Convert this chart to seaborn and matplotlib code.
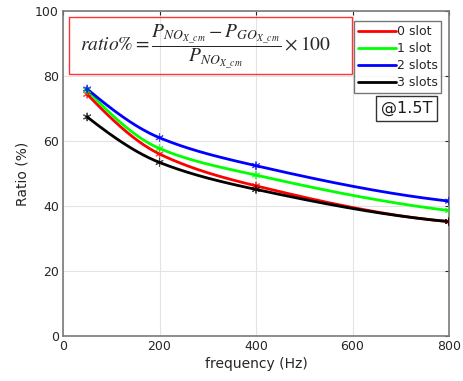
import numpy as np
import pandas as pd
import seaborn as sns
import matplotlib
matplotlib.use("Agg")
import matplotlib.pyplot as plt
from matplotlib.patches import Rectangle

# ---- data ----
freq = [50, 200, 400, 800]
slot0 = [74.4, 56.0, 46.2, 35.2]
slot1 = [75.6, 57.7, 49.5, 38.6]
slot2 = [76.0, 61.0, 52.4, 41.5]
slot3 = [67.4, 53.4, 45.1, 35.2]
series_names = ["0 slot", "1 slot", "2 slots", "3 slots"]
series_vals = [slot0, slot1, slot2, slot3]
colors = ["#ff0000", "#00ff00", "#0000ff", "#000000"]
x_ticks = [0, 200, 400, 600, 800]
y_ticks = [0, 20, 40, 60, 80, 100]


def pchip(x, y, n=300):
    x = np.asarray(x, float); y = np.asarray(y, float)
    h = np.diff(x)
    delta = np.diff(y) / h
    k = len(x)
    d = np.zeros(k)
    for i in range(1, k - 1):
        if delta[i - 1] * delta[i] > 0:
            w1 = 2 * h[i] + h[i - 1]
            w2 = h[i] + 2 * h[i - 1]
            d[i] = (w1 + w2) / (w1 / delta[i - 1] + w2 / delta[i])
    d[0] = ((2 * h[0] + h[1]) * delta[0] - h[0] * delta[1]) / (h[0] + h[1])
    if np.sign(d[0]) != np.sign(delta[0]):
        d[0] = 0
    d[-1] = ((2 * h[-1] + h[-2]) * delta[-1] - h[-1] * delta[-2]) / (h[-1] + h[-2])
    if np.sign(d[-1]) != np.sign(delta[-1]):
        d[-1] = 0
    xs = np.linspace(x[0], x[-1], n)
    ys = np.empty_like(xs)
    for j, xv in enumerate(xs):
        i = min(np.searchsorted(x, xv, side="right") - 1, k - 2)
        t = (xv - x[i]) / h[i]
        h00 = 2 * t**3 - 3 * t**2 + 1
        h10 = t**3 - 2 * t**2 + t
        h01 = -2 * t**3 + 3 * t**2
        h11 = t**3 - t**2
        ys[j] = h00 * y[i] + h10 * h[i] * d[i] + h01 * y[i + 1] + h11 * h[i] * d[i + 1]
    return xs, ys


sns.set_style("white")
plt.rcParams["font.family"] = ["DejaVu Sans"]
plt.rcParams["mathtext.fontset"] = "stix"

fig = plt.figure(figsize=(4.63, 3.81), dpi=100)
ax = fig.add_axes([63 / 463, 1 - 336 / 381, (449 - 63) / 463, (336 - 11) / 381])

smooth_rows = []
point_rows = []
for name, vals in zip(series_names, series_vals):
    xs, ys = pchip(freq, vals)
    smooth_rows.append(pd.DataFrame({"freq": xs, "ratio": ys, "series": name}))
    point_rows.append(pd.DataFrame({"freq": freq, "ratio": vals, "series": name}))
smooth = pd.concat(smooth_rows, ignore_index=True)
points = pd.concat(point_rows, ignore_index=True)
pal = dict(zip(series_names, colors))

sns.lineplot(data=smooth, x="freq", y="ratio", hue="series", palette=pal,
             linewidth=2, ax=ax, legend=True, sort=False, estimator=None)
sns.scatterplot(data=points, x="freq", y="ratio", hue="series", palette=pal,
                marker=(6, 2, 0), s=30, linewidth=0.8, alpha=0.7, ax=ax,
                legend=False, zorder=5)

ax.set_xlim(0, 800)
ax.set_ylim(0, 100)
ax.set_xticks(x_ticks)
ax.set_yticks(y_ticks)
ax.grid(True, color="#e3e3e3", linewidth=0.8)
ax.tick_params(direction="in", length=3, labelsize=9, colors="#262626",
               top=True, right=True, pad=3)
for sp in ax.spines.values():
    sp.set_visible(True)
    sp.set_color("#7a7a7a")
    sp.set_linewidth(1.2)
ax.set_xlabel("frequency (Hz)", fontsize=10, color="#262626", labelpad=3)
ax.set_ylabel("Ratio (%)", fontsize=10, color="#262626", labelpad=4)

leg = ax.legend(loc="upper right", bbox_to_anchor=(0.99, 0.98), fontsize=9,
                frameon=True, fancybox=False, edgecolor="#555555",
                handlelength=3.0, handletextpad=0.1, labelspacing=0.32,
                borderpad=0.3, borderaxespad=0.3)
leg.get_frame().set_linewidth(1.0)
leg.set_title(None)

# formula box
ax.text(0.37, 0.89,
        r"$ratio\% = \dfrac{P_{NO_{X\_cm}} - P_{GO_{X\_cm}}}{P_{NO_{X\_cm}}} \times 100$",
        transform=ax.transAxes, ha="center", va="center", fontsize=14)
ax.add_patch(Rectangle((6 / 386, 1 - 63 / 325), (352 - 69) / 386, (74 - 17) / 325,
                       transform=ax.transAxes, fill=False, edgecolor="#ff3333",
                       linewidth=1.0, zorder=6))

ax.text(0.89, 0.70, "@1.5T", transform=ax.transAxes, ha="center", va="center",
        fontsize=11.5, color="#1a1a1a",
        bbox=dict(boxstyle="square,pad=0.3", facecolor="white", edgecolor="#333333",
                  linewidth=1.0))

fig.savefig("out.png", dpi=100)
